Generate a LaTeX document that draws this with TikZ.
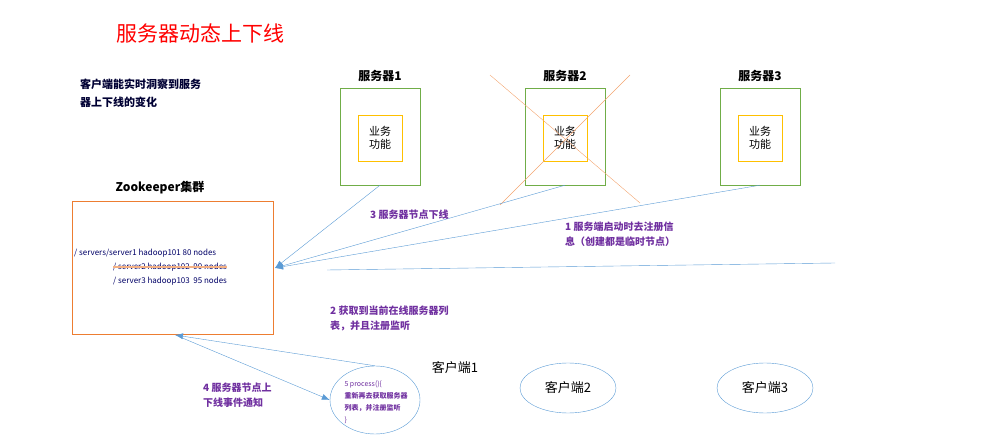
\documentclass[tikz,border=0pt]{standalone}
\usepackage{fontspec}
\setmainfont{Noto Sans CJK SC}
\usetikzlibrary{arrows.meta,shapes.geometric}
\definecolor{pur}{HTML}{7030A0}
\definecolor{ln}{HTML}{5B9BD5}
\definecolor{gr}{HTML}{70AD47}
\definecolor{org}{HTML}{ED7D31}
\definecolor{yel}{HTML}{FFC000}
\tikzset{
 srv/.style={draw=gr,minimum width=80pt,minimum height=97pt},
 biz/.style={draw=yel,minimum width=44pt,minimum height=46pt,font=\fontsize{11}{13}\selectfont,align=center},
 lab/.style={font=\bfseries\fontsize{12}{14}\selectfont},
 note/.style={text=pur,font=\bfseries\fontsize{10}{15}\selectfont,align=left,anchor=north west,inner sep=0},
 conn/.style={draw=ln,-{Latex[length=8pt,width=6pt]}},
 cli/.style={draw=ln,ellipse,minimum width=96pt,minimum height=50pt,font=\fontsize{13}{15}\selectfont}
}
\begin{document}
\begin{tikzpicture}[x=1pt,y=-1pt]
\useasboundingbox (0,0) rectangle (986,443);
\node[text=red,font=\fontsize{21}{24}\selectfont,anchor=west] (title) at (113,33) {服务器动态上下线};
\node[note,text=black!80!blue,font=\bfseries\fontsize{11}{18}\selectfont] (desc) at (80,79) {客户端能实时洞察到服务\\器上下线的变化};
\foreach \i/\x in {1/380,2/565,3/760}{
 \node[srv] (s\i) at (\x,136.5) {};
 \node[biz] (b\i) at (\x,138) {业务\\功能};
 \node[lab] (l\i) at (\x,76) {服务器\i};
}
\draw[org!70] (490,75) -- (640,203);
\draw[org!70] (630,75) -- (500,205);
\node[lab] (zkl) at (160,188) {Zookeeper集群};
\node[draw=org,minimum width=201pt,minimum height=133pt] (zk) at (172.5,267.5) {};
\node[anchor=west,font=\fontsize{8}{10}\selectfont,text=blue!40!black,inner sep=0] (r1) at (74,253) {/ servers/server1 hadoop101 80 nodes};
\node[anchor=west,font=\fontsize{8}{10}\selectfont,text=blue!40!black,inner sep=0] (r2) at (113,267) {/ server2 hadoop102\ \ 90 nodes};
\node[anchor=west,font=\fontsize{8}{10}\selectfont,text=blue!40!black,inner sep=0] (r3) at (113,281) {/ server3 hadoop103\ \ 95 nodes};
\draw[org!60,line width=1.2pt] (r2.west) -- (r2.east);
\coordinate (zr) at (275,268);
\draw[conn] (s1.south) -- (zr);
\draw[conn] (s2.south) -- (zr);
\draw[conn] (s3.south) -- (zr);
\draw[ln] (327,270) -- (835,263);
\node[note] (n3) at (370,210) {3 服务器节点下线};
\node[note] (n1) at (565,222) {1 服务端启动时去注册信\\息（创建都是临时节点）};
\node[note] (n2) at (330,306) {2 获取到当前在线服务器列\\表，并且注册监听};
\node[note] (n4) at (203,383) {4 服务器节点上\\下线事件通知};
\node[draw=ln,ellipse,minimum width=90pt,minimum height=68pt,inner sep=0] (c1) at (375,400) {};
\node[align=left,text=pur,font=\fontsize{7}{12}\selectfont,inner sep=0] (c1t) at (376,402) {5 process()\{\\\textbf{重新再去获取服务器}\\\textbf{列表，并注册监听}\\\}};
\node[font=\fontsize{13}{15}\selectfont] (c1l) at (455,368) {客户端1};
\node[cli] (c2) at (568,388) {客户端2};
\node[cli] (c3) at (765,388) {客户端3};
\draw[conn] (c1.north) -- (175,335);
\draw[conn] (180,337) -- (c1.west);
\end{tikzpicture}
\end{document}
